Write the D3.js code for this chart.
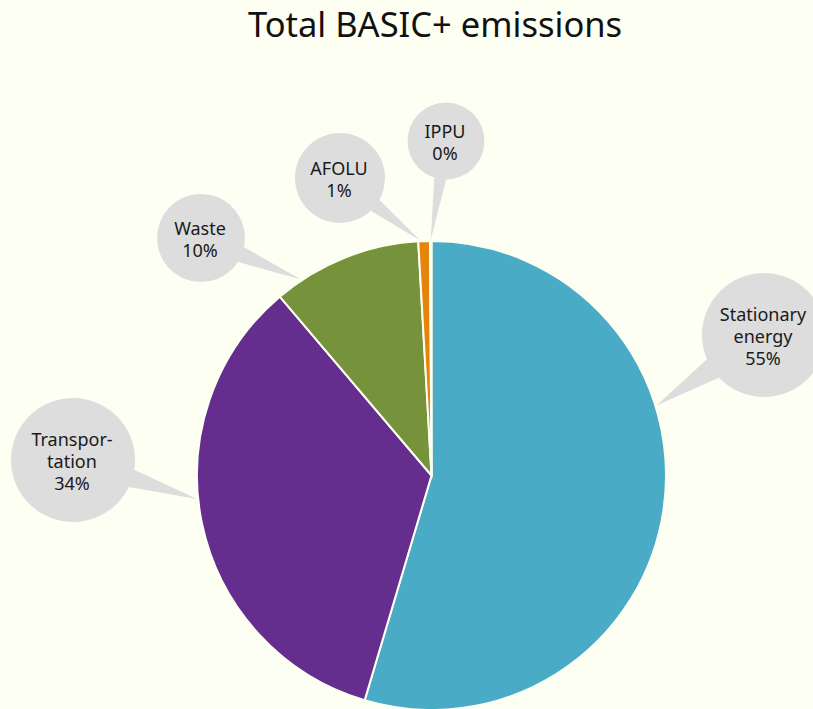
<!DOCTYPE html>
<html>
<head>
<meta charset="utf-8">
<script src="https://cdn.jsdelivr.net/npm/d3@7"></script>
<style>
  body { margin: 0; background: #fefff3; }
  svg { display: block; font-family: "Noto Sans", sans-serif; }
</style>
</head>
<body>
<svg width="813" height="709"></svg>
<script>
// Data
var sectors = ["Stationary energy", "Transportation", "Waste", "AFOLU", "IPPU"];
var shares = [54.6, 34.2, 10.3, 0.8, 0.1];
var labelLines = [["Stationary", "energy"], ["Transpor-", "tation"], ["Waste"], ["AFOLU"], ["IPPU"]];
var colors = ["#4aabc7", "#652d8e", "#76933b", "#e5830b", "#9b9b9b"];

// callout bubble layout (centre, radius, where the pointer hits the slice)
var bubbles = [
  { cx: 764, cy: 335, r: 62, at: 0.37, half: 11 },
  { cx: 73, cy: 460, r: 62, at: 0.55, half: 9 },
  { cx: 201, cy: 238, r: 44, at: 0.18, half: 8 },
  { cx: 340, cy: 178, r: 45, at: 0.15, half: 7 },
  { cx: 446, cy: 141, r: 38.5, at: 0.5, half: 6 }
];

var svg = d3.select("svg");
var cx = 431.5, cy = 475.5, radius = 234.5;

svg.append("text")
  .attr("x", 435)
  .attr("y", 37)
  .attr("text-anchor", "middle")
  .attr("font-size", "34.5px")
  .attr("fill", "#111")
  .text("Total BASIC+ emissions");

var pie = d3.pie().sort(null).value(function (d) { return d; });
var arcs = pie(shares);
var arc = d3.arc().innerRadius(0).outerRadius(radius);

var g = svg.append("g").attr("transform", "translate(" + cx + "," + cy + ")");

// bubbles behind the pie
var callouts = svg.append("g");
arcs.forEach(function (a, i) {
  var b = bubbles[i];
  var ang = a.startAngle + (a.endAngle - a.startAngle) * b.at;
  var tx = cx + Math.sin(ang) * (radius + 1);
  var ty = cy - Math.cos(ang) * (radius + 1);
  var dir = Math.atan2(ty - b.cy, tx - b.cx);
  var da = Math.asin(b.half / b.r);
  var p1 = [b.cx + Math.cos(dir - da) * b.r, b.cy + Math.sin(dir - da) * b.r];
  var p2 = [b.cx + Math.cos(dir + da) * b.r, b.cy + Math.sin(dir + da) * b.r];
  callouts.append("path")
    .attr("d", "M" + p1 + "L" + tx + "," + ty + "L" + p2 + "Z")
    .attr("fill", "#dddddd");
  callouts.append("circle")
    .attr("cx", b.cx).attr("cy", b.cy).attr("r", b.r)
    .attr("fill", "#dddddd");

  var lines = labelLines[i].concat([d3.format(".0f")(shares[i]) + "%"]);
  var lh = 22;
  var t = callouts.append("text")
    .attr("text-anchor", "middle")
    .attr("font-size", "18px")
    .attr("fill", "#1a1a1a");
  lines.forEach(function (l, j) {
    t.append("tspan")
      .attr("x", b.cx - 1)
      .attr("y", b.cy + (j - (lines.length - 1) / 2) * lh + 8)
      .text(l);
  });
});

g.selectAll("path")
  .data(arcs)
  .enter()
  .append("path")
  .attr("d", arc)
  .attr("fill", function (d, i) { return colors[i]; })
  .attr("stroke", "#fefff3")
  .attr("stroke-width", 2);
</script>
</body>
</html>
